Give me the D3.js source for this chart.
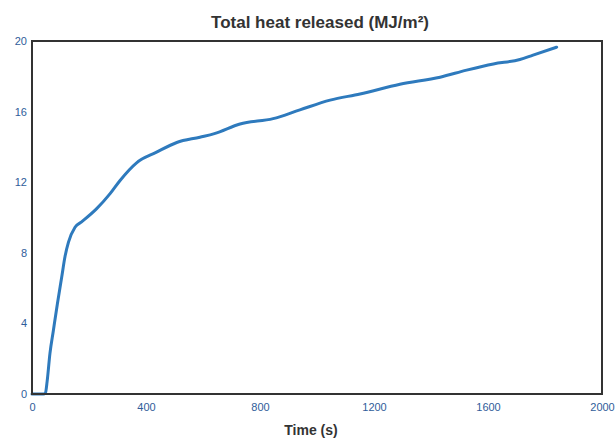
<!DOCTYPE html>
<html>
<head>
<meta charset="utf-8">
<script src="https://cdn.jsdelivr.net/npm/d3@7"></script>
<style>
  body { margin: 0; background: #fff; }
  svg { display: block; font-family: "Liberation Sans", Arial, sans-serif; }
</style>
</head>
<body>
<div id="chart"></div>
<script>
// values
const time = [0, 20, 40, 47, 53, 63, 75, 89, 104, 116, 128, 151, 174, 227, 274, 309, 367, 437, 508, 589, 640, 730, 846, 940, 1046, 1151, 1291, 1432, 1525, 1619, 1712, 1758, 1841];
const thr = [0, 0, 0, 0.05, 0.7, 2.3, 3.6, 5.1, 6.6, 7.8, 8.6, 9.45, 9.75, 10.5, 11.35, 12.1, 13.1, 13.7, 14.25, 14.55, 14.75, 15.3, 15.6, 16.1, 16.65, 17.0, 17.55, 17.95, 18.35, 18.7, 18.95, 19.2, 19.65];
const xTicks = [0, 400, 800, 1200, 1600, 2000];
const yTicks = [0, 4, 8, 12, 16, 20];

const W = 616, H = 440;
const margin = { top: 41, right: 14, bottom: 46, left: 32 };
const iw = W - margin.left - margin.right;
const ih = H - margin.top - margin.bottom;

const svg = d3.select("#chart").append("svg")
    .attr("width", W)
    .attr("height", H);

const g = svg.append("g")
    .attr("transform", `translate(${margin.left},${margin.top})`);

const x = d3.scaleLinear().domain([0, 2000]).range([0, iw]);
const y = d3.scaleLinear().domain([0, 20]).range([ih, 0]);

const xAxis = g.append("g")
    .attr("transform", `translate(0,${ih})`)
    .call(d3.axisBottom(x).tickValues(xTicks).tickFormat(d3.format("d")).tickSize(0).tickPadding(9));
const yAxis = g.append("g")
    .call(d3.axisLeft(y).tickValues(yTicks).tickFormat(d3.format("d")).tickSize(0).tickPadding(5));

[xAxis, yAxis].forEach(a => {
    a.select(".domain").remove();
    a.selectAll("text")
        .attr("fill", "#2f5d9a")
        .style("font-size", "11px");
});

const pts = time.map((t, i) => [t, thr[i]]);
g.append("path")
    .datum(pts)
    .attr("fill", "none")
    .attr("stroke", "#2e7abd")
    .attr("stroke-width", 3)
    .attr("stroke-linejoin", "round")
    .attr("stroke-linecap", "round")
    .attr("d", d3.line().x(d => x(d[0])).y(d => y(d[1])).curve(d3.curveMonotoneX));

// plot frame
g.append("rect")
    .attr("width", iw)
    .attr("height", ih)
    .attr("fill", "none")
    .attr("stroke", "#333")
    .attr("stroke-width", 2);

svg.append("text")
    .attr("x", 320)
    .attr("y", 28)
    .attr("text-anchor", "middle")
    .attr("fill", "#333")
    .style("font-size", "17px")
    .style("font-weight", "bold")
    .text("Total heat released (MJ/m²)");

svg.append("text")
    .attr("x", 311)
    .attr("y", 435)
    .attr("text-anchor", "middle")
    .attr("fill", "#333")
    .style("font-size", "14px")
    .style("font-weight", "bold")
    .text("Time (s)");
</script>
</body>
</html>
